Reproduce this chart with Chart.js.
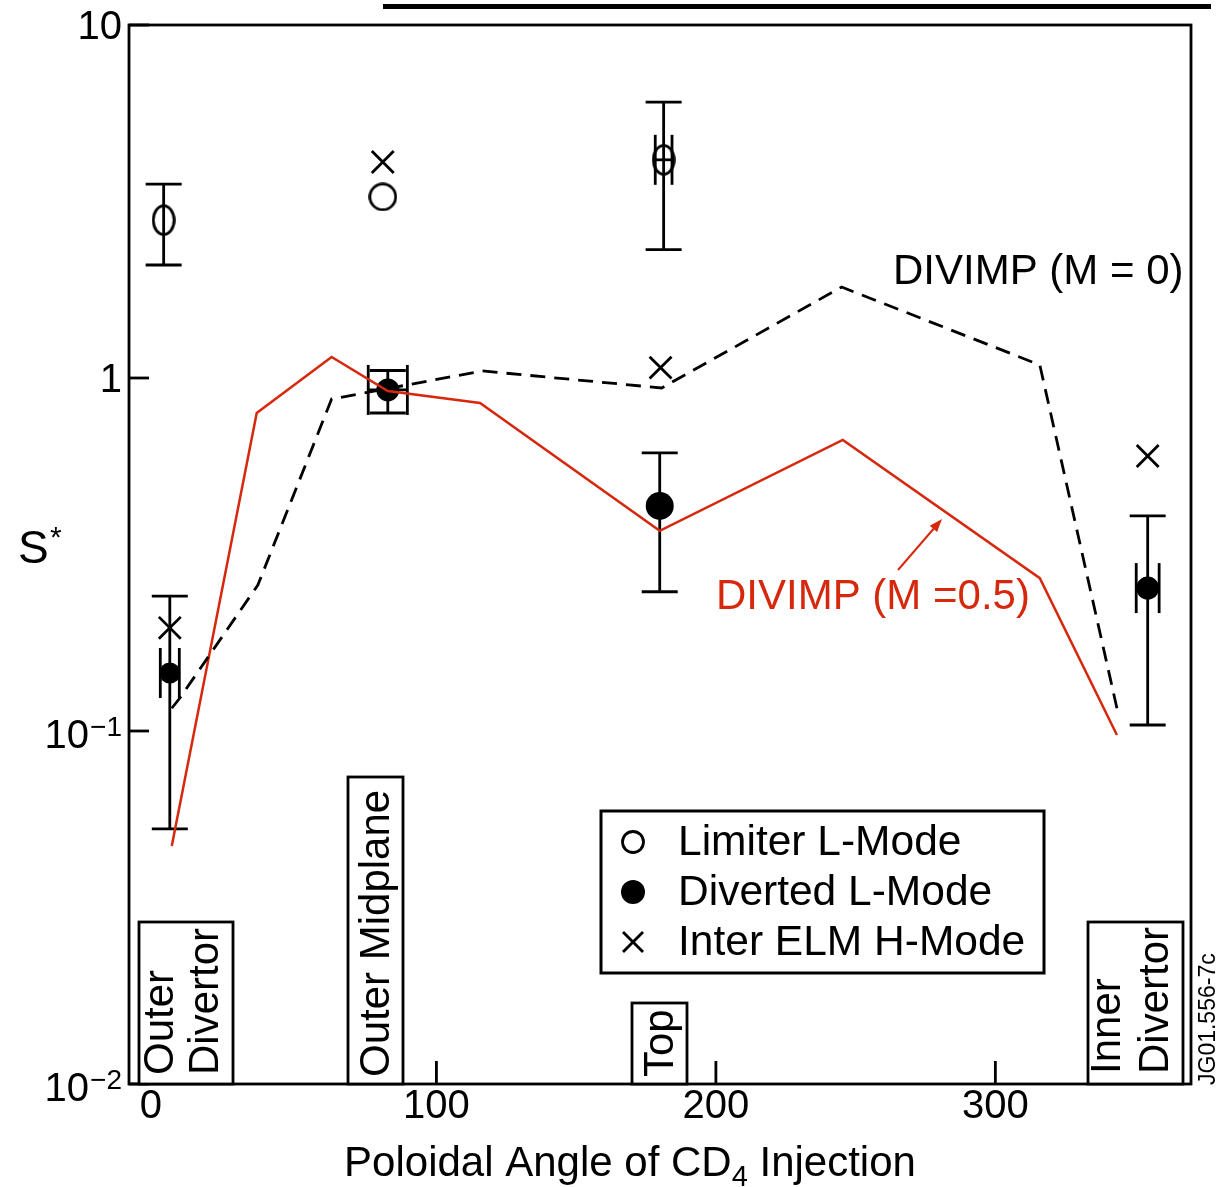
<!DOCTYPE html>
<html>
<head>
<meta charset="utf-8">
<script src="https://cdn.jsdelivr.net/npm/chart.js@4.4.0/dist/chart.umd.min.js"></script>
<style>
  html, body { margin: 0; padding: 0; background: #fff; }
  canvas { display: block; }
</style>
</head>
<body>
<canvas id="chart" width="1218" height="1187"></canvas>
<script>
// ---- data ----
const xTicks = [0, 100, 200, 300];
const yTicks = [10, 1, 0.1, 0.01];

// Limiter L-Mode (open circles)
const limiterX = [2.4, 80.8, 181.3];
const limiterY = [2.80, 3.26, 4.15];
const limiterLow = [2.09, null, 2.31];
const limiterHigh = [3.54, null, 6.05];
const limiterXErr = [0, 0, 3];

// Diverted L-Mode (filled circles)
const divertedX = [4.6, 82.6, 179.9, 354.5];
const divertedY = [0.146, 0.925, 0.434, 0.254];
const divertedLow = [0.0528, 0.796, 0.248, 0.104];
const divertedHigh = [0.241, 1.05, 0.614, 0.407];
const divertedXErr = [3.4, 7, 0, 4.1];

// Inter ELM H-Mode (crosses)
const elmX = [4.6, 80.8, 180.2, 354.5];
const elmY = [0.196, 4.09, 1.07, 0.601];

// DIVIMP model curves
const divimp0X = [5.3, 8.2, 36.1, 62.5, 116.5, 180.6, 245.0, 315.9, 343.5];
const divimp0Y = [0.116, 0.124, 0.259, 0.872, 1.047, 0.937, 1.81, 1.089, 0.116];
const divimp05X = [5.3, 35.7, 62.5, 82.6, 115.6, 179.9, 245.4, 315.9, 343.5];
const divimp05Y = [0.0472, 0.796, 1.147, 0.919, 0.85, 0.369, 0.668, 0.271, 0.0974];

const FONT = '"Liberation Sans", Arial, Helvetica, sans-serif';
const RED = '#d6280c';
const LW = 2.8;

const pts = (xs, ys) => xs.map((x, i) => ({ x: x, y: ys[i] }));

// hollow ring markers (the ones with error bars look a bit elliptical)
function ring(w, h) {
  const c = document.createElement('canvas');
  c.width = w; c.height = h;
  const g = c.getContext('2d');
  g.lineWidth = LW;
  g.strokeStyle = '#000';
  g.beginPath();
  g.ellipse(w / 2, h / 2, w / 2 - 1.6, h / 2 - 1.6, 0, 0, Math.PI * 2);
  g.stroke();
  return c;
}
const ellipseMark = ring(24, 32);
const circleMark = ring(29, 29);

function line(ctx, x1, y1, x2, y2) {
  ctx.beginPath();
  ctx.moveTo(x1, y1);
  ctx.lineTo(x2, y2);
  ctx.stroke();
}

function errorBars(chart, xs, ys, lows, highs, xerrs) {
  const { ctx, scales: { x, y } } = chart;
  ctx.save();
  ctx.strokeStyle = '#000';
  ctx.lineWidth = LW;
  xs.forEach((xv, i) => {
    const px = x.getPixelForValue(xv);
    const py = y.getPixelForValue(ys[i]);
    if (lows[i] != null) {
      const pl = y.getPixelForValue(lows[i]);
      const ph = y.getPixelForValue(highs[i]);
      line(ctx, px, pl, px, ph);
      line(ctx, px - 18, pl, px + 18, pl);
      line(ctx, px - 18, ph, px + 18, ph);
    }
    if (xerrs[i]) {
      const pa = x.getPixelForValue(xv - xerrs[i]);
      const pb = x.getPixelForValue(xv + xerrs[i]);
      line(ctx, pa, py, pb, py);
      line(ctx, pa, py - 25, pa, py + 25);
      line(ctx, pb, py - 25, pb, py + 25);
    }
  });
  ctx.restore();
}

function boxLabel(ctx, x1, y1, x2, y2, lines, baselines, startY) {
  ctx.fillStyle = '#fff';
  ctx.fillRect(x1, y1, x2 - x1, y2 - y1);
  ctx.strokeStyle = '#000';
  ctx.lineWidth = LW;
  ctx.strokeRect(x1, y1, x2 - x1, y2 - y1);
  ctx.fillStyle = '#000';
  ctx.font = '42px ' + FONT;
  ctx.textAlign = 'left';
  ctx.textBaseline = 'alphabetic';
  lines.forEach((t, i) => {
    ctx.save();
    ctx.translate(baselines[i], startY);
    ctx.rotate(-Math.PI / 2);
    ctx.fillText(t, 0, 0);
    ctx.restore();
  });
}

const overlay = {
  id: 'overlay',
  beforeDatasetsDraw(chart) {
    errorBars(chart, limiterX, limiterY, limiterLow, limiterHigh, limiterXErr);
    errorBars(chart, divertedX, divertedY, divertedLow, divertedHigh, divertedXErr);
  },
  afterDraw(chart) {
    const { ctx, chartArea: a, scales: { x, y } } = chart;
    ctx.save();

    // thick rule at the very top of the figure
    ctx.fillStyle = '#000';
    ctx.fillRect(383, 4, 828, 5);

    // inward ticks
    ctx.strokeStyle = '#000';
    ctx.lineWidth = LW;
    xTicks.forEach(v => {
      const px = x.getPixelForValue(v);
      line(ctx, px, a.bottom, px, a.bottom - 23);
    });
    yTicks.forEach(v => {
      const py = y.getPixelForValue(v);
      line(ctx, a.left, py, a.left + 20, py);
    });

    // frame
    ctx.strokeRect(a.left, a.top, a.right - a.left, a.bottom - a.top);

    // x tick labels
    ctx.fillStyle = '#000';
    ctx.font = '40px ' + FONT;
    ctx.textAlign = 'center';
    ctx.textBaseline = 'middle';
    xTicks.forEach(v => ctx.fillText(String(v), x.getPixelForValue(v) - (v === 0 ? 6 : 0), a.bottom + 23));

    // y tick labels (10, 1, 10^-1, 10^-2)
    const rx = a.left - 7;
    yTicks.forEach(v => {
      const py = y.getPixelForValue(v);
      const e = Math.round(Math.log10(v));
      ctx.textAlign = 'right';
      ctx.textBaseline = 'middle';
      if (e >= 0) {
        ctx.font = '40px ' + FONT;
        ctx.fillText(String(v), rx, py + 3);
      } else {
        ctx.font = '28px ' + FONT;
        const sup = '\u2212' + (-e);
        ctx.fillText(sup, rx, py - 3);
        const w = ctx.measureText(sup).width;
        ctx.font = '40px ' + FONT;
        ctx.fillText('10', rx - w - 1, py + 6);
      }
    });

    // y axis title S*
    ctx.textAlign = 'left';
    ctx.textBaseline = 'alphabetic';
    ctx.font = '46px ' + FONT;
    ctx.fillText('S', 18, 563);
    ctx.font = '30px ' + FONT;
    ctx.fillText('*', 50, 547);

    // x axis title with subscript
    const p1 = 'Poloidal Angle of CD', p2 = '4', p3 = ' Injection';
    ctx.font = '42px ' + FONT;
    const w1 = ctx.measureText(p1).width, w3 = ctx.measureText(p3).width;
    ctx.font = '29px ' + FONT;
    const w2 = ctx.measureText(p2).width;
    let tx = 630 - (w1 + w2 + w3) / 2;
    ctx.font = '42px ' + FONT;
    ctx.fillText(p1, tx, 1176);
    tx += w1;
    ctx.font = '29px ' + FONT;
    ctx.fillText(p2, tx, 1186);
    tx += w2;
    ctx.font = '42px ' + FONT;
    ctx.fillText(p3, tx, 1176);

    // region boxes
    boxLabel(ctx, 139, 922, 233, a.bottom, ['Outer', 'Divertor'], [173, 218], 1075);
    boxLabel(ctx, 348, 777, 403, a.bottom, ['Outer Midplane'], [389], 1077);
    boxLabel(ctx, 632, 1003, 687, a.bottom, ['Top'], [673], 1077);
    boxLabel(ctx, 1088, 922, 1183, a.bottom, ['Inner', 'Divertor'], [1120, 1168], 1074);

    // figure id
    ctx.font = '23px ' + FONT;
    ctx.fillStyle = '#000';
    ctx.save();
    ctx.translate(1215, 1085);
    ctx.rotate(-Math.PI / 2);
    ctx.fillText('JG01.556-7c', 0, 0);
    ctx.restore();

    // curve annotations
    ctx.font = '42px ' + FONT;
    ctx.fillStyle = '#000';
    ctx.fillText('DIVIMP (M = 0)', 893, 284);
    ctx.fillStyle = RED;
    ctx.fillText('DIVIMP (M =0.5)', 716, 609);
    ctx.strokeStyle = RED;
    ctx.lineWidth = 2;
    line(ctx, 898, 570, 936, 526);
    const ang = Math.atan2(519 - 570, 942 - 898);
    ctx.beginPath();
    ctx.moveTo(942, 519);
    ctx.lineTo(942 - 14 * Math.cos(ang - 0.35), 519 - 14 * Math.sin(ang - 0.35));
    ctx.lineTo(942 - 14 * Math.cos(ang + 0.35), 519 - 14 * Math.sin(ang + 0.35));
    ctx.closePath();
    ctx.fill();

    // legend
    ctx.fillStyle = '#fff';
    ctx.fillRect(601, 811, 443, 162);
    ctx.strokeStyle = '#000';
    ctx.lineWidth = 3;
    ctx.strokeRect(601, 811, 443, 162);
    ctx.lineWidth = LW;
    ctx.beginPath();
    ctx.arc(633, 842, 10.5, 0, Math.PI * 2);
    ctx.stroke();
    ctx.fillStyle = '#000';
    ctx.beginPath();
    ctx.arc(633, 892, 12, 0, Math.PI * 2);
    ctx.fill();
    line(ctx, 623, 932, 643, 952);
    line(ctx, 623, 952, 643, 932);
    ctx.font = '42.5px ' + FONT;
    ctx.textBaseline = 'middle';
    ctx.fillText('Limiter L-Mode', 678, 843);
    ctx.fillText('Diverted L-Mode', 678, 893);
    ctx.fillText('Inter ELM H-Mode', 678, 943);

    ctx.restore();
  }
};

new Chart(document.getElementById('chart'), {
  type: 'scatter',
  data: {
    datasets: [
      {
        label: 'DIVIMP (M = 0)',
        data: pts(divimp0X, divimp0Y),
        showLine: true,
        borderColor: '#000',
        borderWidth: LW,
        borderDash: [15, 9],
        pointRadius: 0,
        order: 0
      },
      {
        label: 'DIVIMP (M =0.5)',
        data: pts(divimp05X, divimp05Y),
        showLine: true,
        borderColor: RED,
        borderWidth: 2.5,
        pointRadius: 0,
        order: 0
      },
      {
        label: 'Limiter L-Mode',
        data: pts(limiterX, limiterY),
        pointStyle: [ellipseMark, circleMark, ellipseMark],
        pointRadius: 12,
        order: 1
      },
      {
        label: 'Diverted L-Mode',
        data: pts(divertedX, divertedY),
        pointStyle: 'circle',
        pointRadius: [10.5, 11.5, 14, 11.5],
        backgroundColor: '#000',
        borderColor: '#000',
        borderWidth: 0,
        order: 1
      },
      {
        label: 'Inter ELM H-Mode',
        data: pts(elmX, elmY),
        pointStyle: 'crossRot',
        pointRadius: 15.5,
        borderColor: '#000',
        borderWidth: LW,
        order: 1
      }
    ]
  },
  options: {
    responsive: false,
    animation: false,
    layout: { padding: { left: 129, top: 25, right: 27, bottom: 103 } },
    scales: {
      x: { type: 'linear', min: -10, max: 370, display: false },
      y: { type: 'logarithmic', min: 0.01, max: 10, display: false }
    },
    plugins: {
      legend: { display: false },
      tooltip: { enabled: false }
    }
  },
  plugins: [overlay]
});
</script>
</body>
</html>
